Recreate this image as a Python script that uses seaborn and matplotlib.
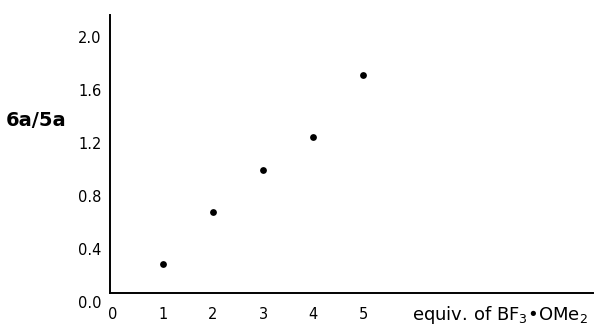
import matplotlib
matplotlib.use("Agg")
import matplotlib.pyplot as plt
import seaborn as sns
import pandas as pd

equiv = [1, 2, 3, 4, 5]
ratio = [0.29, 0.68, 1.00, 1.25, 1.72]
yticks = [0.0, 0.4, 0.8, 1.2, 1.6, 2.0]
xticks = [0, 1, 2, 3, 4, 5]

sns.set_style("white")
plt.rcParams['font.family'] = ['DejaVu Sans']
plt.rcParams['mathtext.fontset'] = 'dejavusans'
plt.rcParams['text.color'] = 'black'

df = pd.DataFrame({"equiv": equiv, "ratio": ratio})

fig = plt.figure(figsize=(5.95, 3.25), dpi=100)
ax = fig.add_axes([0.1849, 0.0708, 0.812, 0.883])
sns.scatterplot(data=df, x="equiv", y="ratio", ax=ax, color="black",
                s=24, edgecolor="black", linewidth=0)

ax.set_xlim(-0.06, 9.6)
ax.set_ylim(0, 2.17)
ax.spines['top'].set_visible(False)
ax.spines['right'].set_visible(False)
for s in ['left', 'bottom']:
    ax.spines[s].set_color('black')
    ax.spines[s].set_linewidth(1.4)
ax.spines['bottom'].set_position(('data', 0.07))
ax.spines['left'].set_bounds(0.07, 2.17)

ax.set_xticks(xticks)
ax.set_xticklabels([str(v) for v in xticks])
ax.set_yticks(yticks)
ax.set_yticklabels([f"{v:.1f}" for v in yticks])
ax.tick_params(axis='both', length=0, labelsize=10.5, colors='black')
ax.tick_params(axis='x', pad=10)
ax.tick_params(axis='y', pad=6)
ax.set_xlabel("")
ax.set_ylabel("")

fig.text(0.061, 0.63, "6a/5a", fontsize=14, fontweight='bold',
         color='black', ha='center', va='center')
fig.text(0.692, 0.031, "equiv. of BF$_3$•OMe$_2$", fontsize=13,
         color='black', ha='left', va='center')

fig.savefig("out.png", dpi=100)
